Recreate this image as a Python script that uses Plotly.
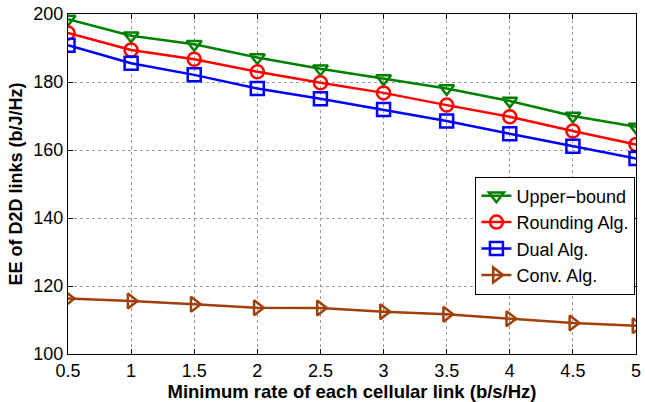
import plotly.graph_objects as go

x_rate = [0.5, 1, 1.5, 2, 2.5, 3, 3.5, 4, 4.5, 5]
upper_bound = [198.5, 193.6, 191.1, 187.2, 183.9, 181.0, 178.1, 174.4, 170.0, 166.8]
rounding_alg = [194.4, 189.4, 186.7, 183.0, 179.8, 176.8, 173.2, 169.8, 165.6, 161.6]
dual_alg = [190.8, 185.5, 182.1, 178.1, 175.1, 171.9, 168.5, 164.8, 161.1, 157.5]
conv_alg = [116.3, 115.6, 114.6, 113.6, 113.5, 112.4, 111.7, 110.4, 109.1, 108.3]
x_ticks = [0.5, 1, 1.5, 2, 2.5, 3, 3.5, 4, 4.5, 5]
x_tick_labels = ["0.5", "1", "1.5", "2", "2.5", "3", "3.5", "4", "4.5", "5"]
y_ticks = [100, 120, 140, 160, 180, 200]

series = [
    ("Upper\u2212bound", upper_bound, "#008000", "triangle-down-open"),
    ("Rounding Alg.", rounding_alg, "#ff0000", "circle-open"),
    ("Dual Alg.", dual_alg, "#0000ff", "square-open"),
    ("Conv. Alg.", conv_alg, "#a0400a", "triangle-right-open"),
]

fig = go.Figure()
for name, ys, color, sym in series:
    fig.add_trace(go.Scatter(
        x=x_rate, y=ys, name=name, mode="lines+markers",
        line=dict(color=color, width=2.5),
        marker=dict(symbol=sym, size=13, color=color, line=dict(color=color, width=2.5)),
    ))

font_family = "Liberation Sans, Arial, sans-serif"
fig.update_layout(
    width=645, height=402,
    margin=dict(l=68, r=4, t=13, b=48),
    paper_bgcolor="white", plot_bgcolor="white",
    font=dict(family=font_family, size=18, color="black"),
    showlegend=True,
    legend=dict(
        x=0.999, y=0.522, xanchor="right", yanchor="top",
        bgcolor="white", bordercolor="black", borderwidth=1,
        font=dict(size=18), tracegroupgap=0, itemwidth=30,
    ),
    xaxis=dict(
        range=[0.5, 5], tickvals=x_ticks, ticktext=x_tick_labels,
        showgrid=True, gridcolor="#9a9a9a", griddash="dot", gridwidth=1,
        showline=True, linecolor="black", linewidth=1, mirror="ticks",
        ticks="inside", ticklen=5, tickcolor="black",
        zeroline=False, ticklabeloverflow="allow",
        title=dict(text="<b>Minimum rate of each cellular link (b/s/Hz)</b>",
                   font=dict(size=18.5), standoff=3),
    ),
    yaxis=dict(
        range=[100, 200], tickvals=y_ticks,
        showgrid=True, gridcolor="#9a9a9a", griddash="dot", gridwidth=1,
        showline=True, linecolor="black", linewidth=1, mirror="ticks",
        ticks="inside", ticklen=5, tickcolor="black",
        zeroline=False, ticklabeloverflow="allow",
        title=dict(text="<b>EE of D2D links (b/J/Hz)</b>",
                   font=dict(size=18), standoff=6),
    ),
)

fig.write_html("out.html")
